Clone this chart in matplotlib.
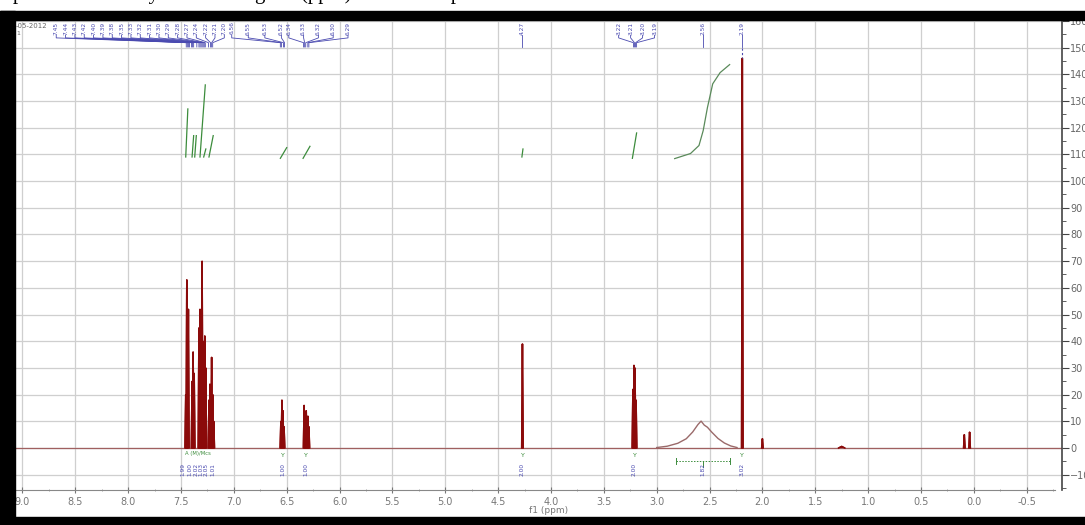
import numpy as np
import matplotlib.pyplot as plt
from matplotlib.ticker import MultipleLocator
from matplotlib.patches import Rectangle

# 1H NMR peaks (ppm, intensity)
peak_ppm = [7.455, 7.445, 7.43, 7.395, 7.385, 7.375, 7.33, 7.32, 7.31, 7.30, 7.29, 7.275, 7.265,
            7.235, 7.225, 7.21, 7.20, 7.19,
            6.555, 6.545, 6.535, 6.525,
            6.335, 6.325, 6.315, 6.30, 6.29,
            4.27,
            3.225, 3.215, 3.205, 3.195,
            2.19, 2.00, 1.25, 0.09, 0.04]
peak_height = [20, 63, 52, 25, 36, 28, 45, 52, 48, 70, 40, 42, 30,
               18, 24, 34, 20, 10,
               10, 18, 14, 8,
               16, 12, 14, 12, 8,
               39,
               22, 31, 30, 18,
               146, 3.5, 0.6, 5, 6]

# broad signal near 2.56 ppm
hump_ppm = [3.00, 2.90, 2.80, 2.72, 2.66, 2.61, 2.58, 2.55, 2.52, 2.48, 2.42, 2.36, 2.30, 2.24]
hump_height = [0.2, 0.7, 1.8, 3.5, 6.0, 8.8, 10.1, 8.6, 7.8, 6.0, 3.6, 1.9, 0.8, 0.2]

# integral curves: start ppm, end ppm, low, high
integ_start = [7.455, 7.395, 7.37, 7.32, 7.285, 7.235, 6.56, 6.345, 4.275, 3.23]
integ_end = [7.435, 7.38, 7.355, 7.27, 7.265, 7.195, 6.50, 6.28, 4.265, 3.19]
integ_low = [109, 109, 109, 109, 109, 109, 108.5, 108.5, 109, 108.5]
integ_high = [127, 117, 117, 136, 112, 117, 112.5, 113, 112, 118]
hump_int_ppm = [2.83, 2.68, 2.60, 2.56, 2.52, 2.47, 2.40, 2.31]
hump_int_val = [108.4, 110.3, 113.3, 118.9, 127.5, 136.4, 140.6, 143.6]

# top peak labels
label_groups = [
    ["7.45", "7.44", "7.43", "7.42", "7.40", "7.39", "7.38", "7.35", "7.33", "7.32", "7.31",
     "7.30", "7.29", "7.28", "7.27", "7.24", "7.22", "7.21", "7.20"],
    ["6.56", "6.55", "6.53", "6.52"],
    ["6.34", "6.33", "6.32", "6.30", "6.29"],
    ["4.27"],
    ["3.22", "3.21", "3.20", "3.19"],
    ["2.56"],
    ["2.19"],
]
group_text_range = [(8.68, 7.09), (7.02, 6.55), (6.48, 5.92), (4.27, 4.27),
                    (3.36, 3.02), (2.56, 2.56), (2.19, 2.19)]

# integration values under the peaks
integ_pos = [7.48, 7.42, 7.36, 7.31, 7.26, 7.20, 6.54, 6.32, 4.27, 3.21, 2.56, 2.19]
integ_text = ["1.99", "1.00", "2.02", "1.03", "2.05", "1.01", "1.00", "1.00", "2.00", "2.00", "1.82", "3.02"]

red = '#8b0a0a'
blue = '#4a4ab0'
green = '#3c8c3c'

fig = plt.figure(figsize=(10.85, 5.25), dpi=100)
ax = fig.add_axes([15 / 1085, 35 / 525, (1062 - 15) / 1085, (505 - 35) / 525])

ax.set_xlim(9.07, -0.834)
ax.set_ylim(-15.7, 160.3)

# grid
ax.xaxis.set_major_locator(MultipleLocator(0.5))
ax.xaxis.set_minor_locator(MultipleLocator(0.25))
ax.yaxis.set_major_locator(MultipleLocator(10))
ax.yaxis.set_minor_locator(MultipleLocator(5))
ax.grid(True, which='major', color='#cfcfcf', lw=0.9)
ax.set_axisbelow(True)

# baseline + peaks
ax.plot([9.07, -0.834], [0, 0], color='#a06060', lw=0.9)
for p, h in zip(peak_ppm, peak_height):
    w = 0.007 if h > 2 else 0.03
    ax.fill([p + w, p, p - w], [0, h, 0], color=red, lw=1.1)
    ax.plot([p + w, p, p - w], [0, h, 0], color=red, lw=1.1)
ax.plot(hump_ppm, hump_height, color='#9a6a6a', lw=1.0)

# integrals
for s, e, lo, hi in zip(integ_start, integ_end, integ_low, integ_high):
    ax.plot([s, e], [lo, hi], color=green, lw=0.9)
ax.plot(hump_int_ppm, hump_int_val, color='#5a8a5a', lw=0.9)

# top peak labels with connector lines
for labels, (x0, x1) in zip(label_groups, group_text_range):
    n = len(labels)
    xs = [x0] if n == 1 else [x0 + (x1 - x0) * i / (n - 1) for i in range(n)]
    for tx, lab in zip(xs, labels):
        v = float(lab)
        ax.text(tx, 157.3, lab, rotation=90, fontsize=4.2, color=blue,
                ha='center', va='center')
        ax.plot([tx, tx, v, v], [154.6, 153.6, 151.8, 150.2], color=blue, lw=0.6)
ax.plot([2.19, 2.19], [150, 146], color=blue, lw=0.8, ls=(0, (2, 2)))
ax.text(9.06, 158.2, "-05-2012", fontsize=5, color='#666666', ha='left', va='center')
ax.text(9.06, 155.2, "1", fontsize=4.5, color='#666666', ha='left', va='center')

# integration marks below baseline
ax.text(7.34, -2.2, "A (M)/Mcs", fontsize=3.8, color=green, ha='center', va='center')
for p in [6.54, 6.32, 4.27, 3.21, 2.19]:
    ax.text(p, -2.6, "Y", fontsize=4.5, color=green, ha='center', va='center')
ax.plot([2.82, 2.31], [-4.8, -4.8], color=green, lw=0.7, ls=(0, (1.5, 1.5)))
ax.plot([2.82, 2.82], [-6.0, -3.6], color=green, lw=0.7)
ax.plot([2.31, 2.31], [-6.0, -3.6], color=green, lw=0.7)
ax.plot([2.56, 2.56], [-4.8, -7.0], color=green, lw=0.7)
for p, t in zip(integ_pos, integ_text):
    ax.text(p, -8.0, t, rotation=90, fontsize=4.2, color=blue, ha='center', va='center')

# axes styling
for s in ['left', 'top']:
    ax.spines[s].set_visible(False)
ax.spines['right'].set_color('#444444')
ax.spines['right'].set_linewidth(1.2)
ax.spines['bottom'].set_color('#888888')
ax.spines['bottom'].set_bounds(9.07, -0.77)
ax.yaxis.tick_right()
ax.tick_params(axis='y', which='major', length=5, labelsize=7, labelcolor='#666666', color='#444444', pad=1)
ax.tick_params(axis='y', which='minor', length=3, color='#444444')
ax.tick_params(axis='x', which='major', length=4, direction='inout', labelsize=7,
               labelcolor='#777777', color='#777777', pad=3)
ax.tick_params(axis='x', which='minor', length=2, direction='inout', color='#999999')
ax.set_yticks(np.arange(-10, 161, 10))
ax.set_xticks(np.arange(-0.5, 9.01, 0.5))
ax.set_xticklabels(["%.1f" % v for v in np.arange(-0.5, 9.01, 0.5)])
ax.set_xlabel("f1 (ppm)", fontsize=6.5, color='#777777')
ax.xaxis.set_label_coords(0.51, -0.033)

# black frame of the screenshot and cut caption line
fig.add_artist(Rectangle((0, 0), 15 / 1085, 514 / 525, transform=fig.transFigure, color='black', zorder=10))
fig.add_artist(Rectangle((0, 505 / 525), 1, 9 / 525, transform=fig.transFigure, color='black', zorder=10))
fig.add_artist(Rectangle((0, 0), 1, 8 / 525, transform=fig.transFigure, color='black', zorder=10))
fig.text(0.012, 1.012, "pectrum of the synthesized ligand (ppm) in CDCl3 spectrum", fontsize=15,
         family='Liberation Serif', ha='left', va='center')

fig.savefig('out.png', dpi=100)
